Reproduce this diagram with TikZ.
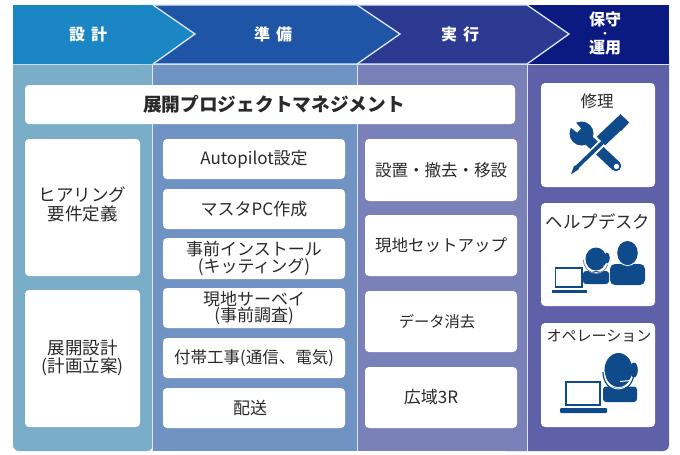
\documentclass[tikz,border=0pt]{standalone}
\usepackage{fontspec}
\setmainfont{Noto Sans CJK JP}
\definecolor{hdA}{HTML}{1A86C4}
\definecolor{hdB}{HTML}{1F55A6}
\definecolor{hdC}{HTML}{2C3A91}
\definecolor{hdD}{HTML}{0A1A80}
\definecolor{bdA}{HTML}{7AADC8}
\definecolor{bdB}{HTML}{7093C4}
\definecolor{bdC}{HTML}{7A80B8}
\definecolor{bdD}{HTML}{5E60A8}
\definecolor{edge}{HTML}{DCE8F5}
\definecolor{ink}{HTML}{0F4A8A}
\definecolor{txt}{HTML}{2A2A2A}
\tikzset{
  chev/.style={draw=edge,line width=1.3pt,line join=miter},
  box/.style={fill=white,rounded corners=4pt,inner sep=0pt,text=txt,align=center,font=\fontsize{17}{16.5}\selectfont},
  boxr/.style={box,font=\fontsize{16.5}{16.5}\selectfont},
  boxl/.style={box,font=\fontsize{17.5}{18.5}\selectfont},
  hdr/.style={text=white,inner sep=0pt,align=center,font=\bfseries\fontsize{16}{17}\selectfont},
  iconlabel/.style={text=txt,inner sep=0pt},
}
\newcommand{\mkbox}[7][box]{\node[#1,minimum width=#4-#2,minimum height=#5-#3] (#6) at ({(#2+#4)/2},{(#3+#5)/2}) {#7};}
\begin{document}
\begin{tikzpicture}[x=1pt,y=-1pt]
\useasboundingbox (0,0) rectangle (680,455);
\fill[white] (0,0) rectangle (680,455);
% column bodies
\path[fill=bdD,rounded corners=6pt] (500,50) -- (669,50) -- (669,451) -- (500,451) -- cycle;
\fill[bdC] (357,64) rectangle (527,451);
\fill[bdB] (153,64) rectangle (357,451);
\path[fill=bdA,rounded corners=6pt] (153,50) -- (13,50) -- (13,451) -- (153,451) -- cycle;
\draw[edge,line width=1pt] (13,64.5) -- (669,64.5);
\draw[edge,line width=1pt] (152.5,64) -- (152.5,451);
\draw[edge,line width=1pt] (357,64) -- (357,451);
\draw[edge,line width=1pt] (527.5,64) -- (527.5,451);
% header chevrons
\fill[hdD] (500,5) -- (669,5) -- (669,64) -- (500,64) -- cycle;
\path[chev,fill=hdC] (340,5) -- (527,5) -- (569,34) -- (527,64) -- (340,64) -- cycle;
\path[chev,fill=hdB] (140,5) -- (357,5) -- (400,34) -- (357,64) -- (140,64) -- cycle;
\fill[hdA] (13,5) -- (153,5) -- (195,34) -- (153,64) -- (13,64) -- cycle;
\draw[chev] (153,5) -- (195,34) -- (153,64);
\node[hdr] (h1) at (88,34) {設\hspace{6pt}計};
\node[hdr] (h2) at (273,34) {準\hspace{6pt}備};
\node[hdr] (h3) at (460,34) {実\hspace{6pt}行};
\node[hdr,font=\bfseries\fontsize{16}{14}\selectfont] (h4) at (605,33.5) {保守\\[0pt]\raisebox{2.5pt}{\fontsize{10}{10}\selectfont ・}\\[0pt]運用};
% boxes
\node[box,minimum width=490,minimum height=39,font=\bfseries\fontsize{18.7}{20}\selectfont] (pm) at (270,104.5) {\hspace{8pt}展開プロジェクトマネジメント};
\mkbox[boxl]{25}{139}{140}{276}{a1}{ヒアリング\\要件定義\\[-11pt]\mbox{}}
\mkbox[boxl]{25}{290}{140}{427}{a2}{展開設計\\(計画立案)\\[-13.5pt]\mbox{}}
\mkbox{163}{139}{345}{179}{b1}{Autopilot設定}
\mkbox{163}{189}{345}{229}{b2}{マスタPC作成}
\mkbox{163}{238}{345}{279}{b3}{事前インストール\\(キッティング)}
\mkbox{163}{288}{345}{328}{b4}{現地サーベイ\\(事前調査)}
\mkbox[boxr]{163}{338}{345}{378}{b5}{付帯工事(通信、電気)}
\mkbox{163}{388}{345}{428}{b6}{\raisebox{1pt}{配送}\hspace{8pt}}
\mkbox[boxr]{365}{139}{517}{201}{c1}{設置・撤去・移設}
\mkbox[boxr]{365}{215}{517}{276}{c2}{\raisebox{2pt}{現地セットアップ}}
\mkbox[box,font=\fontsize{15.3}{16.5}\selectfont]{365}{291}{517}{352}{c3}{\raisebox{1pt}{データ消去}\hspace{8pt}}
\mkbox[box,font=\fontsize{17}{16.5}\selectfont]{365}{367}{517}{428}{c4}{\raisebox{2pt}{広域3R}\hspace{20pt}}
\mkbox{541}{83}{655}{187}{d1}{}
\mkbox{541}{203}{655}{306}{d2}{}
\mkbox{541}{323}{655}{427}{d3}{}
\node[iconlabel,font=\fontsize{16.5}{18}\selectfont] (d1t) at (597,101) {修理};
\node[iconlabel,font=\fontsize{17.4}{18}\selectfont] (d2t) at (598,222) {ヘルプデスク};
\node[iconlabel,font=\fontsize{15}{18}\selectfont] (d3t) at (599,336) {オペレーション};
% wrench
\fill[ink] (581.5,133.5) circle (12);
\draw[ink,line width=10.5pt,line cap=round] (581,133) -- (616,166);
\fill[white] (581,128.5) -- (577,132.5) -- (567.5,125) -- (573,119.5) -- cycle;
\fill[white] (616.5,166.5) circle (2.7);
% screwdriver
\draw[white,line width=7.5pt] (606,139) -- (592,153);
\draw[ink,line width=3.8pt] (603,142) -- (576,168);
\fill[ink] (577.5,165) -- (579,169) -- (571,174.5) -- (574,166) -- cycle;
\draw[white,line width=16pt] (602,142) -- (604,140);
\draw[ink,line width=12pt,line cap=butt,rounded corners=1pt] (622,121) -- (601,141);
\fill[ink,rotate around={-43.6:(620,122)}] (615,116) rectangle (627,128);
% helpdesk icon
\fill[ink,rounded corners=3pt] (583,271) -- (609,271) -- (609,284) -- (583,284) -- cycle;
\fill[ink] (596,259) ellipse (10.5 and 11.5);
\draw[white,line width=.8pt] (584.5,260) arc[start angle=180,end angle=20,x radius=11.5,y radius=12.5];
\draw[bdD!80,line width=.9pt] (583.5,260) arc[start angle=180,end angle=20,x radius=12.5,y radius=13.5];
\fill[ink] (607,258) ellipse (2.8 and 5.5);
\draw[white,line width=.8pt] (604,265) -- (604,269) -- (598,271);
\fill[ink,rounded corners=5pt] (610,264) -- (645,264) -- (645,285) -- (610,285) -- cycle;
\draw[white,line width=1pt] (627.5,253) ellipse (11 and 12.5);
\fill[ink] (627.5,253) ellipse (10.3 and 12);
\draw[ink,line width=1.7pt,fill=white] (555.5,268) rectangle (582,287);
\fill[ink] (552,290) rectangle (587,293);
% operation icon
\fill[ink,rounded corners=3pt] (603,386.5) -- (637,386.5) -- (637,402) -- (603,402) -- cycle;
\draw[white,line width=1pt] (618.5,370) ellipse (14.5 and 17.5);
\fill[ink] (618.5,370) ellipse (14 and 17);
\draw[ink,line width=1.2pt] (603,372) arc[start angle=180,end angle=10,x radius=15.5,y radius=18.5];
\draw[white,line width=.9pt] (604.5,372) arc[start angle=180,end angle=10,x radius=14,y radius=17];
\fill[ink] (634,370) ellipse (3.8 and 7.5);
\draw[white,line width=1pt] (631,378) -- (630,380.5) -- (620,381.5);
\draw[ink,line width=1.8pt,fill=white] (566,382) rectangle (600,405);
\fill[ink,rounded corners=1pt] (560,408) rectangle (607,413);
\end{tikzpicture}
\end{document}
